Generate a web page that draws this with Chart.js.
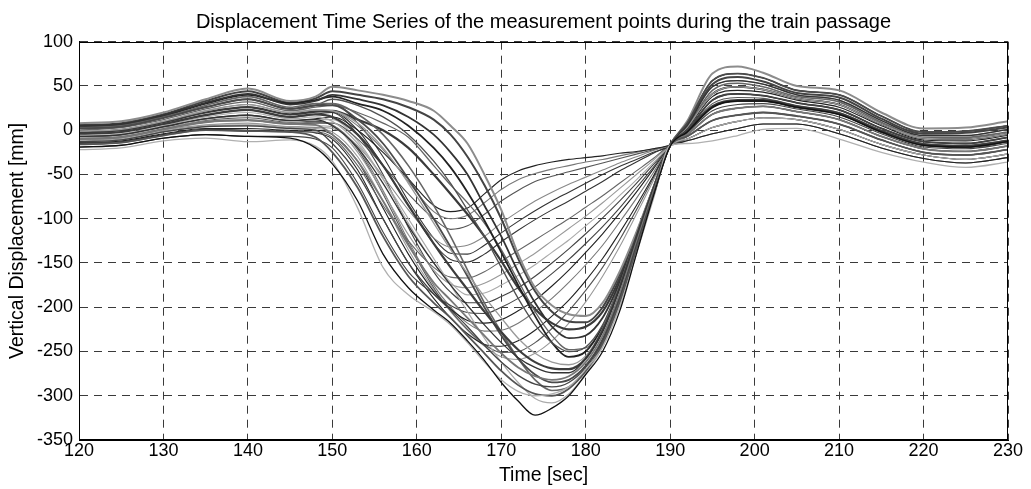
<!DOCTYPE html>
<html><head><meta charset="utf-8">
<script src="https://cdn.jsdelivr.net/npm/chart.js@4"></script>
<style>html,body{margin:0;padding:0;background:#fff;}#wrap{width:1031px;height:489px;}</style>
</head><body><div id="wrap"><canvas id="c" width="1031" height="489"></canvas></div>
<script>
// Time axis (sec)
const timeSec = [120,125,130,135,140,145,148,150,153,156,159,162,164,166,168,170,172,174,176,178,180,182,184,186,188,190,192,195,198,201,205,210,215,220,225,230];
const xTickValues = [120,130,140,150,160,170,180,190,200,210,220,230];
const yTickValues = [100,50,0,-50,-100,-150,-200,-250,-300,-350];
const chartTitle = 'Displacement Time Series of the measurement points during the train passage';

// Vertical displacement (mm) of measurement points
const m1  = [-19,-17,-9,-5,-7,-9,-20,-38, -80,-140,-178,-203,-218,-238,-260,-285,-306,-322,-314,-300,-276,-250,-205,-140,-75,-18, -2,26,33,33,26,18,-2,-17,-19,-13];
const m2  = [-22,-20,-12,-9,-13,-11,-18,-35, -88,-155,-186,-205,-220,-240,-262,-282,-295,-300,-298,-290,-270,-245,-200,-140,-78,-17, -15,-12,-6,1,2,-10,-25,-36,-42,-36];
const m3  = [-16,-14,-6,0,-1,-2,-8,-25, -65,-120,-165,-195,-212,-232,-252,-272,-288,-298,-300,-292,-272,-242,-195,-135,-75,-18, -7,11,17,20,16,7,-11,-25,-28,-22];
const m4  = [-13,-11,-2,4,5,2,0,-15, -50,-100,-150,-185,-203,-222,-243,-262,-277,-287,-290,-285,-268,-238,-190,-130,-72,-17, 0,34,41,39,31,23,2,-13,-15,-8];
const m5  = [-10,-8,1,9,11,7,6,-5, -35,-80,-130,-172,-192,-212,-232,-252,-268,-278,-282,-278,-262,-232,-185,-127,-70,-17, -5,18,25,27,21,12,-7,-21,-24,-18];
const m6  = [-7,-5,4,13,17,11,12,5, -20,-60,-108,-150,-175,-198,-220,-240,-257,-268,-274,-274,-258,-228,-180,-124,-68,-17, 5,49,56,52,40,34,11,-6,-6,1];
const m7  = [-4,-2,7,17,23,15,18,15, -5,-40,-85,-128,-155,-180,-205,-228,-248,-262,-269,-270,-258,-226,-178,-120,-66,-16, -2,26,33,33,26,18,-2,-17,-19,-13];
const m8  = [-1,1,10,22,29,20,23,22, 8,-20,-60,-105,-135,-162,-188,-212,-235,-252,-262,-265,-255,-224,-176,-118,-64,-16, 3,41,49,46,36,29,7,-9,-10,-4];
const m9  = [2,4,14,26,35,24,28,28, 12,-15,-55,-100,-132,-165,-200,-232,-258,-276,-285,-282,-266,-236,-188,-128,-70,-17, 8,56,64,59,45,40,16,-2,-1,5];
const m10 = [-6,-4,5,15,20,13,15,10, -15,-55,-100,-145,-175,-205,-235,-262,-285,-303,-308,-298,-275,-245,-198,-137,-76,-18, -10,3,10,14,12,1,-16,-28,-33,-27];
const m11 = [3,5,15,28,38,26,30,30, 18,-5,-40,-85,-120,-158,-195,-228,-258,-282,-294,-290,-272,-240,-192,-131,-72,-17, 4,45,53,49,38,32,9,-8,-8,-2];
const l1  = [8,10,20,35,47,33,38,49, 45,40,33,22,5,-15,-50,-90,-140,-178,-198,-208,-210,-195,-160,-115,-65,-17, 10,64,72,65,50,45,20,2,3,10];
const l2  = [5,7,17,31,41,29,33,40, 35,28,15,-5,-25,-50,-85,-120,-160,-195,-222,-235,-232,-212,-172,-120,-66,-17, 0,34,41,39,31,23,2,-13,-15,-8];
const l3  = [2,4,14,26,35,24,28,35, 28,15,-5,-35,-60,-90,-120,-155,-190,-220,-240,-250,-245,-220,-175,-120,-66,-17, -5,18,25,27,21,12,-7,-21,-24,-18];
const l4  = [4,6,16,30,40,30,34,38, 30,22,5,-20,-42,-70,-102,-138,-175,-210,-240,-256,-250,-222,-176,-120,-66,-17, 3,41,49,46,36,29,7,-9,-10,-4];
const l5  = [0,3,12,24,32,22,26,28, 20,8,-8,-40,-62,-82,-105,-135,-170,-205,-232,-248,-246,-222,-176,-120,-66,-17, -7,11,17,20,16,7,-11,-25,-28,-22];
const l6  = [-3,0,9,20,26,18,21,22, 12,0,-20,-50,-72,-95,-120,-148,-178,-202,-218,-225,-222,-205,-168,-118,-66,-17, -1,27,34,34,27,19,-1,-16,-18,-12];
const l7  = [6,8,18,33,44,31,36,44, 40,35,26,12,-5,-30,-62,-100,-145,-182,-205,-216,-217,-200,-163,-117,-66,-17, 7,52,60,55,42,37,13,-4,-3,3];
const f1  = [-7,-5,4,13,17,11,13,15, 0,-25,-55,-85,-92,-88,-72,-56,-46,-40,-36,-33,-31,-29,-26,-24,-21,-17, -12,-4,2,7,7,-4,-20,-32,-37,-31];
const f1b = [-1,1,10,22,29,20,23,22, 5,-22,-58,-92,-100,-96,-82,-67,-56,-49,-44,-40,-36,-33,-29,-25,-21,-17, 3,41,49,46,36,29,7,-9,-10,-4];
const f2  = [-10,-8,1,9,11,7,8,8, -10,-40,-72,-100,-112,-108,-95,-80,-68,-58,-52,-47,-42,-37,-32,-27,-22,-17, -10,3,10,14,12,1,-16,-28,-33,-27];
const f3  = [-13,-11,-2,4,5,2,3,2, -18,-52,-90,-122,-132,-130,-120,-105,-92,-80,-70,-61,-53,-45,-37,-30,-23,-17, -7,11,17,20,16,7,-11,-25,-28,-22];
const f3b = [2,4,14,26,35,24,28,30, 8,-30,-80,-122,-139,-140,-130,-116,-103,-91,-80,-70,-60,-50,-41,-33,-25,-17, 8,56,64,59,45,40,16,-2,-1,5];
const f4  = [-4,-2,7,17,23,15,18,20, 0,-40,-85,-128,-146,-149,-140,-126,-113,-101,-90,-80,-69,-58,-46,-36,-26,-17, -5,18,25,27,21,12,-7,-21,-24,-18];
const f5  = [-16,-14,-6,0,-1,-2,-2,-8, -40,-85,-125,-155,-166,-167,-160,-148,-136,-124,-112,-100,-87,-74,-60,-46,-32,-17, -12,-4,2,7,7,-4,-20,-32,-37,-31];
const f5b = [-11,-9,0,6,8,4,5,4, -25,-70,-118,-158,-174,-178,-173,-163,-151,-139,-125,-111,-97,-82,-66,-50,-34,-17, -7,11,17,20,16,7,-11,-25,-28,-22];
const f6  = [-8,-6,3,12,16,10,12,12, -12,-55,-105,-150,-172,-186,-184,-175,-164,-152,-138,-124,-108,-92,-74,-56,-37,-17, 0,34,41,39,31,23,2,-13,-15,-8];
const f6b = [-3,0,9,20,26,18,21,20, -5,-50,-110,-160,-183,-195,-195,-188,-178,-165,-150,-134,-117,-99,-80,-60,-39,-17, -3,22,29,30,24,15,-4,-19,-21,-15];
const f7  = [-19,-17,-9,-5,-7,-7,-10,-20, -60,-115,-160,-185,-198,-206,-207,-200,-190,-177,-162,-146,-128,-109,-88,-65,-42,-17, -10,3,10,14,12,1,-16,-28,-33,-27];
const f7b = [-14,-12,-4,2,2,0,0,-5, -35,-88,-140,-182,-202,-215,-218,-214,-204,-192,-176,-158,-138,-117,-94,-70,-44,-17, 2,38,45,43,34,26,5,-11,-12,-6];
const f8  = [-9,-7,2,10,12,8,9,6, -20,-68,-125,-175,-200,-218,-227,-226,-218,-205,-190,-172,-152,-130,-104,-77,-48,-17, 5,49,56,52,40,34,11,-6,-6,1];
const f9  = [-15,-13,-5,1,0,-1,-3,-10, -45,-100,-150,-190,-212,-230,-242,-244,-238,-226,-210,-192,-170,-145,-116,-85,-52,-17, -2,26,33,33,26,18,-2,-17,-19,-13];
const f9b = [-8,-6,3,11,14,9,10,6, -22,-72,-128,-178,-204,-225,-242,-251,-250,-240,-224,-204,-181,-155,-124,-90,-54,-17, -1,30,37,36,28,20,0,-15,-17,-11];
const f10 = [-12,-10,-1,5,6,3,2,-2, -30,-80,-135,-180,-205,-226,-244,-256,-259,-252,-238,-218,-194,-165,-132,-95,-57,-17, 8,56,64,59,45,40,16,-2,-1,5];

const seriesList = [m1,m2,m3,m4,m5,m6,m7,m8,m9,m10,m11,l1,l2,l3,l4,l5,l6,l7,
  f1,f1b,f2,f3,f3b,f4,f5,f5b,f6,f6b,f7,f7b,f8,f9,f9b,f10];
const lineColors = ['#111','#b0b0b0','#555','#444','#777','#333','#3c3c3c','#999','#4a4a4a','#aaa','#666',
  '#8c8c8c','#333','#505050','#222','#666','#3a3a3a','#444',
  '#222','#777','#555','#888','#333','#333','#666','#999','#aaa','#444','#444','#222','#777','#222','#555','#999'];
const lineWidths = [1.3,1.3,1.8,1.3,1.8,1.3,2.2,1.3,1.8,1.2,1.6, 2,1.8,1.3,1.8,1.3,2.2,2,
  1.1,1.1,1.1,1.1,1.1,1.1,1.1,1.1,1.1,1.1,1.1,1.1,1.1,1.1,1.1,1.1];

const FONT = "'Liberation Sans', Arial, Helvetica, sans-serif";

const datasets = seriesList.map((s, i) => ({
  data: s.map((v, k) => ({x: timeSec[k], y: v})),
  borderColor: lineColors[i],
  borderWidth: lineWidths[i],
  pointRadius: 0,
  fill: false,
  cubicInterpolationMode: 'monotone'
}));

// Frame around the axes and a title centred over the plot area
const boxPlugin = {
  id: 'box',
  afterDatasetsDraw(chart) {
    const {ctx, chartArea: a} = chart;
    ctx.save();
    ctx.strokeStyle = '#000';
    ctx.lineWidth = 1;
    ctx.setLineDash([]);
    ctx.strokeRect(Math.round(a.left) + 0.5, Math.round(a.top) + 0.5, Math.round(a.right - a.left) - 1, Math.round(a.bottom - a.top) - 1);
    ctx.restore();
  },
  afterDraw(chart) {
    const {ctx, chartArea: a} = chart;
    ctx.save();
    ctx.fillStyle = '#000';
    ctx.font = '20px ' + FONT;
    ctx.textAlign = 'center';
    ctx.textBaseline = 'middle';
    ctx.fillText(chartTitle, (a.left + a.right) / 2, 22);
    ctx.restore();
  }
};

new Chart(document.getElementById('c'), {
  type: 'line',
  data: { datasets },
  plugins: [boxPlugin],
  options: {
    responsive: false,
    animation: false,
    devicePixelRatio: 1,
    layout: { padding: { left: 0, right: 23, top: 41.7, bottom: 0 } },
    plugins: {
      legend: { display: false },
      tooltip: { enabled: false },
      title: { display: false }
    },
    scales: {
      x: {
        type: 'linear', min: 120, max: 230,
        afterFit: s => { s.height = 49; },
        afterBuildTicks: s => { s.ticks = xTickValues.map(v => ({value: v})); },
        ticks: { color: '#000', padding: 0, font: { family: FONT, size: 18 }, maxRotation: 0, autoSkip: false },
        grid: { color: '#3a3a3a', lineWidth: 1, drawTicks: false },
        border: { display: true, color: '#000', dash: [8, 6] },
        title: { display: true, text: 'Time [sec]', color: '#000', font: { family: FONT, size: 19.5 }, padding: { top: 0, bottom: 1.3 } }
      },
      y: {
        type: 'linear', min: -350, max: 100,
        afterFit: s => { s.width = 79; },
        afterBuildTicks: s => { s.ticks = yTickValues.map(v => ({value: v})); },
        ticks: { color: '#000', padding: 6, font: { family: FONT, size: 18 }, autoSkip: false },
        grid: { color: '#3a3a3a', lineWidth: 1, drawTicks: false },
        border: { display: true, color: '#000', dash: [8, 6] },
        title: { display: true, text: 'Vertical Displacement [mm]', color: '#000', font: { family: FONT, size: 19.5 }, padding: { top: 6.3, bottom: 0 } }
      }
    }
  }
});
</script>
</body></html>
